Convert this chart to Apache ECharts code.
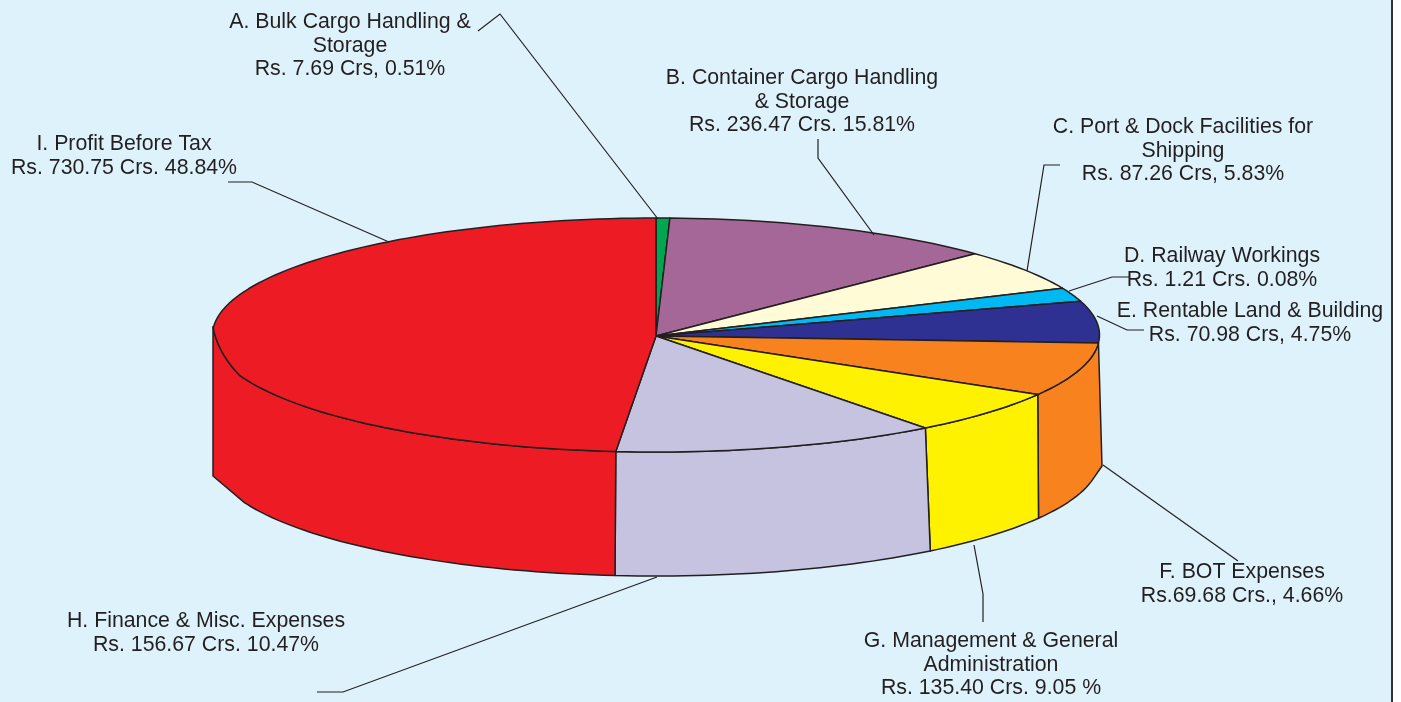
<!DOCTYPE html>
<html><head><meta charset="utf-8">
<style>html,body{margin:0;padding:0;background:#fff;overflow:hidden}#c{width:1401px;height:702px}</style>
<script src="https://cdn.jsdelivr.net/npm/echarts@6/dist/echarts.min.js"></script>
</head><body><div id="c"></div>
<script>
// ---- data ----
const categories = ['A. Bulk Cargo Handling & Storage','B. Container Cargo Handling & Storage','C. Port & Dock Facilities for Shipping','D. Railway Workings','E. Rentable Land & Building','F. BOT Expenses','G. Management & General Administration','H. Finance & Misc. Expenses','I. Profit Before Tax'];
const crores = [7.69,236.47,87.26,1.21,70.98,69.68,135.40,156.67,730.75];
const percents = [0.51,15.81,5.83,0.08,4.75,4.66,9.05,10.47,48.84];
// Sweep of each slice as actually drawn in the reference (it is not to scale with the values)
const drawnSweepDegrees = [1.8,44.2,20.4,6.8,20.7,26.7,22.0,42.6,174.8];
// Angle offset of the walls' lower rim at the end of each slice (degrees)
const lowerRimShift = [0,0,0,0,0,-0.2,-0.8,0.1,0];
const labelLines = [
 ['A. Bulk Cargo Handling &','Storage','Rs. 7.69 Crs, 0.51%'],
 ['B. Container Cargo Handling','& Storage','Rs. 236.47 Crs. 15.81%'],
 ['C. Port & Dock Facilities for','Shipping','Rs. 87.26 Crs, 5.83%'],
 ['D. Railway Workings','Rs. 1.21 Crs. 0.08%'],
 ['E. Rentable Land & Building','Rs. 70.98 Crs, 4.75%'],
 ['F. BOT Expenses','Rs.69.68 Crs., 4.66%'],
 ['G. Management & General','Administration','Rs. 135.40 Crs. 9.05 %'],
 ['H. Finance & Misc. Expenses','Rs. 156.67 Crs. 10.47%'],
 ['I. Profit Before Tax','Rs. 730.75 Crs. 48.84%']
];
// ---- layout & style ----
const colors = ['#00A651','#A56798','#FFFBD7','#00B9F2','#2E3192','#F7821E','#FFF200','#C5C3E0','#ED1C24'];
const labelCenters = [[350,46],[802,102],[1183,151],[1222,268],[1250,323],[1242,584],[991,665],[206,633],[124,156]];
const leaders = [
 [[478,31],[500,14],[658,219]],
 [[818,139],[818,158],[874,235]],
 [[1060,165],[1044,165],[1027,271]],
 [[1130,277],[1112,277],[1069,291]],
 [[1144,330],[1127,330],[1097,316]],
 [[1103,465],[1238,561]],
 [[974,545],[983,594],[983,622]],
 [[657,577],[343,692],[317,692]],
 [[228,182],[252,182],[389,242]]
];
const cx=656, cy=335, rx=443.5, ry=117, depth=124;
const wallFrom=93.9, wallTo=274, rimCutFrom=250, lowerFrom=100, lowerTo=248;
const leftCorner=[213,327], leftCtrl=[218,353], leftFoot=[213,476], rightFoot=[1102,466];
const ink='#231F20', bg='#DEF2FC';
const rad=d=>d*Math.PI/180;
const topPt=t=>[cx+rx*Math.sin(rad(t)),cy-ry*Math.cos(rad(t))];
const botPt=t=>{const u=Math.max(lowerFrom,Math.min(t,lowerTo));return [cx+rx*Math.sin(rad(u)),cy+depth-ry*Math.cos(rad(u))];};
function arc(fn,a,b){const n=Math.max(2,Math.ceil(Math.abs(b-a)/1.5));const p=[];for(let i=0;i<=n;i++)p.push(fn(a+(b-a)*i/n));return p;}
// front-left rim eases into the sharp left corner
function cornerEase(){
  const p0=topPt(rimCutFrom),out=[];
  for(let i=1;i<=10;i++){const s=i/10,m=1-s;
    out.push([m*m*p0[0]+2*m*s*leftCtrl[0]+s*s*leftCorner[0],m*m*p0[1]+2*m*s*leftCtrl[1]+s*s*leftCorner[1]]);}
  return out;
}
function topArc(a,b){
  if(b<=rimCutFrom||a>=wallTo) return arc(topPt,a,b);
  return arc(topPt,a,rimCutFrom).concat(cornerEase(),arc(topPt,wallTo,b));
}

function renderItem(params,api){
  const i=params.dataIndex;
  let start=0;for(let k=0;k<i;k++)start+=drawnSweepDegrees[k];
  const end=start+api.value(0);
  const style={fill:colors[i],stroke:ink,lineWidth:1.5,lineJoin:'round'};
  const children=[];
  const a=Math.max(start,wallFrom),b=Math.min(end,wallTo);
  if(b>a){
    let pts;
    if(b>=wallTo) pts=arc(topPt,a,rimCutFrom).concat(cornerEase(),[leftFoot]);
    else pts=arc(topPt,a,b);
    const sa=i>0?lowerRimShift[i-1]:0, sb=lowerRimShift[i];
    const bot=arc(botPt,b+sb,a+sa);
    if(a<=wallFrom)bot.push(rightFoot);
    children.push({type:'polygon',shape:{points:pts.concat(bot)},style});
  }
  children.push({type:'polygon',shape:{points:[[cx,cy+1]].concat(topArc(start,end))},style});
  return {type:'group',children};
}

const graphic=[
 {type:'rect',z:-10,silent:true,shape:{x:0,y:0,width:1392,height:702},style:{fill:bg}},
 {type:'line',z:-9,silent:true,shape:{x1:1392,y1:0,x2:1392,y2:702},style:{stroke:'#333',lineWidth:2}}
];
leaders.forEach(p=>graphic.push({type:'polyline',z:5,silent:true,shape:{points:p},style:{stroke:ink,lineWidth:1.2,fill:null}}));
labelLines.forEach((l,i)=>graphic.push({type:'text',z:6,silent:true,x:labelCenters[i][0],y:labelCenters[i][1],
  style:{text:l.join('\n'),fill:ink,font:'21.3px "Liberation Sans", Arial, sans-serif',lineHeight:23.5,align:'center',verticalAlign:'middle'}}));

const chart=echarts.init(document.getElementById('c'),null,{renderer:'canvas'});
chart.setOption({
  animation:false,
  backgroundColor:'#fff',
  graphic,
  series:[{type:'custom',coordinateSystem:'none',renderItem,silent:true,z:2,
    data:categories.map((c,i)=>({name:c,value:[drawnSweepDegrees[i],crores[i],percents[i]]}))}]
});
</script></body></html>
